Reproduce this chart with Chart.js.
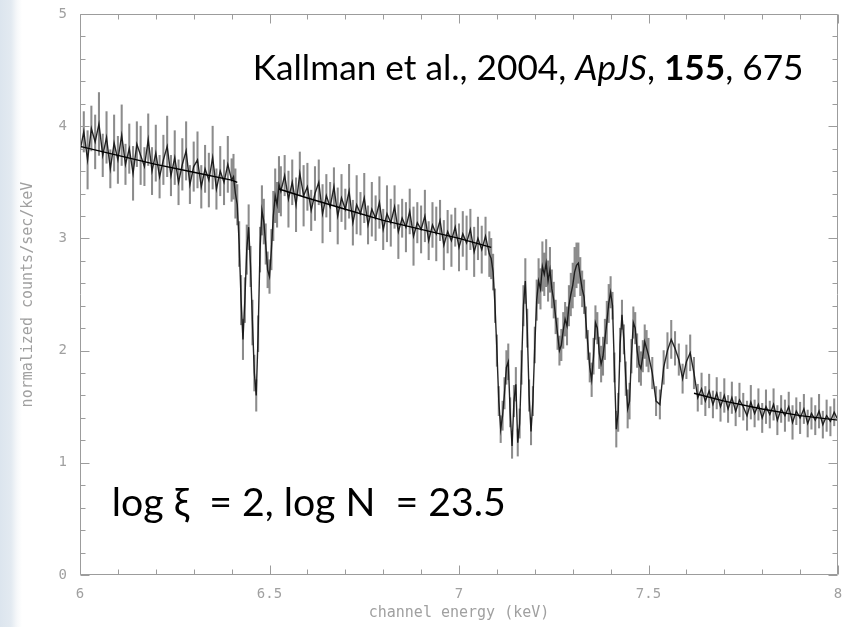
<!DOCTYPE html>
<html><head><meta charset="utf-8">
<script src="https://cdn.jsdelivr.net/npm/chart.js@4.4.1/dist/chart.umd.min.js"></script>
<style>
html,body{margin:0;padding:0;}
body{width:848px;height:627px;overflow:hidden;background:linear-gradient(to right,#dce5ee 0px,#e3eaf1 11px,#f6f8fa 17px,#ffffff 22px);}
#wrap{position:relative;width:848px;height:627px;}
</style></head><body>
<div id="wrap"><canvas id="c" width="848" height="627"></canvas></div>
<script>
// ---- channel energies (keV) ----
const energyKeV = [
  // 6.00 - 6.40
  6.00,6.01,6.02,6.03,6.04,6.05,6.06,6.07,6.08,6.09,
  6.10,6.11,6.12,6.13,6.14,6.15,6.16,6.17,6.18,6.19,
  6.20,6.21,6.22,6.23,6.24,6.25,6.26,6.27,6.28,6.29,
  6.30,6.31,6.32,6.33,6.34,6.35,6.36,6.37,6.38,6.39,
  6.40,
  // 6.405 - 6.525
  6.405,6.41,6.415,6.42,6.425,6.43,6.435,6.44,6.445,6.45,
  6.455,6.46,6.465,6.47,6.475,6.48,6.485,6.49,6.495,6.50,
  6.505,6.51,6.515,6.52,6.525,
  // 6.53 - 7.08
  6.53,6.54,6.55,6.56,6.57,6.58,6.59,
  6.60,6.61,6.62,6.63,6.64,6.65,6.66,6.67,6.68,6.69,
  6.70,6.71,6.72,6.73,6.74,6.75,6.76,6.77,6.78,6.79,
  6.80,6.81,6.82,6.83,6.84,6.85,6.86,6.87,6.88,6.89,
  6.90,6.91,6.92,6.93,6.94,6.95,6.96,6.97,6.98,6.99,
  7.00,7.01,7.02,7.03,7.04,7.05,7.06,7.07,7.08,
  // 7.085 - 7.495
  7.085,7.09,7.095,
  7.10,7.105,7.11,7.115,7.12,7.125,7.13,7.135,7.14,7.145,
  7.15,7.155,7.16,7.165,7.17,7.175,7.18,7.185,7.19,7.195,
  7.20,7.205,7.21,7.215,7.22,7.225,7.23,7.235,7.24,7.245,
  7.25,7.255,7.26,7.265,7.27,7.275,7.28,7.285,7.29,7.295,
  7.30,7.305,7.31,7.315,7.32,7.325,7.33,7.335,7.34,7.345,
  7.35,7.355,7.36,7.365,7.37,7.375,7.38,7.385,7.39,7.395,
  7.40,7.405,7.41,7.415,7.42,7.425,7.43,7.435,7.44,7.445,
  7.45,7.455,7.46,7.465,7.47,7.475,7.48,7.485,7.49,7.495,
  // 7.50 - 8.00
  7.50,7.51,7.52,7.53,7.54,7.55,7.56,7.57,7.58,7.59,
  7.60,7.61,7.62,7.63,7.64,7.65,7.66,7.67,7.68,7.69,
  7.70,7.71,7.72,7.73,7.74,7.75,7.76,7.77,7.78,7.79,
  7.80,7.81,7.82,7.83,7.84,7.85,7.86,7.87,7.88,7.89,
  7.90,7.91,7.92,7.93,7.94,7.95,7.96,7.97,7.98,7.99,
  8.00
];
// ---- normalized counts/sec/keV ----
const countRate = [
  3.78,3.95,3.70,3.98,3.86,4.02,3.74,3.90,3.62,3.85,
  3.70,3.92,3.66,3.80,3.58,3.84,3.74,3.64,3.88,3.60,
  3.76,3.55,3.70,3.82,3.56,3.72,3.50,3.66,3.78,3.48,
  3.64,3.70,3.46,3.62,3.52,3.72,3.44,3.60,3.50,3.66,
  3.52,
  3.55,3.40,3.30,2.95,2.45,2.10,2.45,2.90,3.10,2.75,
  2.25,1.80,1.60,2.15,2.90,3.25,3.15,2.95,2.72,2.66,
  2.90,3.20,3.38,3.30,3.48,
  3.42,3.56,3.35,3.50,3.30,3.58,3.38,
  3.46,3.25,3.40,3.50,3.22,3.38,3.28,3.46,3.20,3.36,
  3.26,3.42,3.14,3.30,3.22,3.36,3.12,3.26,3.18,3.32,
  3.08,3.22,3.14,3.28,3.06,3.18,3.10,3.24,3.02,3.14,
  3.08,3.20,2.98,3.12,3.04,3.16,2.94,3.06,2.98,3.10,
  2.92,3.04,2.96,3.08,2.88,3.00,2.90,3.02,2.86,
  2.82,2.70,2.40,
  2.00,1.55,1.30,1.42,1.62,1.85,1.90,1.45,1.15,1.55,
  1.70,1.18,1.35,1.85,2.40,2.62,2.20,1.60,1.28,1.55,
  2.05,2.45,2.62,2.55,2.75,2.68,2.78,2.62,2.72,2.55,
  2.45,2.30,2.15,2.00,2.05,2.18,2.28,2.22,2.40,2.50,
  2.58,2.70,2.76,2.78,2.66,2.55,2.48,2.25,2.05,1.85,
  1.74,1.95,2.25,2.20,1.98,1.88,1.95,2.10,2.25,2.42,
  2.52,2.40,1.85,1.30,1.45,2.05,2.32,2.10,1.75,1.48,
  1.55,1.95,2.25,2.20,2.00,1.88,1.84,1.95,2.08,2.02,
  1.96,1.80,1.55,1.52,1.85,2.00,2.10,2.02,1.92,1.75,
  1.90,1.98,1.80,1.58,1.66,1.55,1.64,1.52,1.62,1.50,
  1.60,1.48,1.58,1.46,1.56,1.50,1.42,1.54,1.44,1.52,
  1.40,1.50,1.43,1.52,1.38,1.48,1.42,1.50,1.36,1.46,
  1.40,1.48,1.35,1.44,1.38,1.46,1.34,1.42,1.37,1.45,
  1.38
];
// ---- 1-sigma error half-lengths ----
const countErr = [
  0.22,0.18,0.26,0.20,0.24,0.28,0.19,0.23,0.17,0.25,
  0.21,0.27,0.18,0.22,0.24,0.20,0.26,0.17,0.23,0.21,
  0.25,0.19,0.22,0.27,0.18,0.24,0.20,0.23,0.26,0.17,
  0.22,0.25,0.19,0.21,0.24,0.28,0.18,0.22,0.20,0.25,
  0.19,
  0.20,0.22,0.18,0.20,0.22,0.18,0.20,0.22,0.20,0.18,
  0.20,0.16,0.14,0.16,0.20,0.22,0.20,0.18,0.16,0.15,
  0.18,0.22,0.24,0.20,0.25,
  0.22,0.18,0.25,0.20,0.24,0.19,0.27,
  0.21,0.18,0.24,0.20,0.26,0.19,0.22,0.17,0.25,0.21,
  0.18,0.24,0.20,0.26,0.19,0.22,0.17,0.24,0.20,0.23,
  0.18,0.25,0.21,0.19,0.24,0.17,0.22,0.20,0.26,0.18,
  0.21,0.23,0.17,0.20,0.24,0.18,0.22,0.19,0.23,0.17,
  0.21,0.20,0.24,0.18,0.22,0.19,0.21,0.17,0.20,
  0.18,0.16,0.15,
  0.14,0.13,0.12,0.13,0.14,0.15,0.16,0.13,0.11,0.14,
  0.15,0.12,0.13,0.15,0.18,0.20,0.17,0.14,0.12,0.13,
  0.16,0.18,0.20,0.18,0.22,0.19,0.21,0.18,0.20,0.17,
  0.16,0.15,0.14,0.13,0.14,0.16,0.15,0.17,0.18,0.19,
  0.20,0.22,0.20,0.18,0.17,0.16,0.15,0.14,0.13,0.13,
  0.15,0.16,0.15,0.14,0.14,0.16,0.17,0.18,0.19,0.17,
  0.14,0.12,0.13,0.16,0.17,0.15,0.13,0.13,0.15,0.17,
  0.16,0.15,0.14,0.14,0.15,0.16,0.15,0.14,0.15,0.16,
  0.15,0.14,0.13,0.13,0.15,0.16,0.17,0.15,0.14,0.13,
  0.15,0.16,0.14,0.12,0.14,0.13,0.15,0.12,0.14,0.13,
  0.15,0.12,0.14,0.13,0.15,0.12,0.13,0.15,0.12,0.14,
  0.13,0.15,0.12,0.14,0.13,0.12,0.14,0.13,0.15,0.12,
  0.14,0.13,0.12,0.14,0.13,0.15,0.12,0.14,0.13,0.12,
  0.14
];
// ---- continuum model (null = gap where absorption lines dominate) ----
const modelEnergyKeV = [6.00,6.10,6.20,6.30,6.40,6.415, 6.47, 6.525,6.60,6.70,6.80,6.90,7.00,7.085, 7.30, 7.62,7.70,7.80,7.90,8.00];
const modelRate      = [3.82,3.74,3.66,3.59,3.52,3.50, null, 3.44,3.36,3.26,3.16,3.08,3.00,2.92, null, 1.62,1.55,1.48,1.42,1.38];

// ---- axis ticks and texts ----
const xTicks = [6, 6.5, 7, 7.5, 8];
const yTicks = [0, 1, 2, 3, 4, 5];
const xTitle = 'channel energy (keV)';
const yTitle = 'normalized counts/sec/keV';
const refParts = [['Kallman et al., 2004, ','normal'],['ApJS','italic'],[', ','normal'],['155','bold'],[', 675','normal']];
const paramText = 'log \u03BE  = 2, log N  = 23.5';

if (energyKeV.length !== countRate.length || countRate.length !== countErr.length) {
  console.error('length mismatch', energyKeV.length, countRate.length, countErr.length);
}

const dataPts = energyKeV.map((e,i)=>({x:e, y:countRate[i]}));
const errPts  = energyKeV.map((e,i)=>({x:e, y:[countRate[i]-countErr[i], countRate[i]+countErr[i]]}));
const modelPts = modelEnergyKeV.map((e,i)=>({x:e, y:modelRate[i]}));

const FAM = 'Lato, "Open Sans", "DejaVu Sans", sans-serif';
const AXFONT = '"DejaVu Sans Mono", monospace';

const framePlugin = {
  id:'frame',
  afterDatasetsDraw(chart){
    const {ctx, chartArea:a, scales:{x,y}} = chart;
    ctx.save();
    ctx.strokeStyle = '#9c9c9c';
    ctx.lineWidth = 1;
    const L = Math.round(a.left)+0.5, R = Math.round(a.right)-0.5, T = Math.round(a.top)+0.5, B = Math.round(a.bottom)-0.5;
    ctx.beginPath();
    ctx.rect(L, T, R-L, B-T);
    for (let k=60; k<=80; k++){
      const px = Math.round(x.getPixelForValue(k/10))+0.5;
      const len = (k%5===0) ? 9 : 5;
      ctx.moveTo(px, B); ctx.lineTo(px, B-len);
      ctx.moveTo(px, T); ctx.lineTo(px, T+len);
    }
    for (let k=0; k<=25; k++){
      const py = Math.round(y.getPixelForValue(k/5))+0.5;
      const len = (k%5===0) ? 9 : 5;
      ctx.moveTo(L, py); ctx.lineTo(L+len, py);
      ctx.moveTo(R, py); ctx.lineTo(R-len, py);
    }
    ctx.stroke();
    ctx.restore();
  },
  afterDraw(chart){
    const {ctx, scales:{x,y}} = chart;
    ctx.save();
    ctx.fillStyle = '#000';
    ctx.textBaseline = 'alphabetic';
    ctx.textAlign = 'left';
    const base = 32;
    const fontFor = (st,sz)=> (st==='italic' ? 'italic ' : st==='bold' ? 'bold ' : '') + sz + 'px ' + FAM;
    let w = 0;
    refParts.forEach(([t,st])=>{ ctx.font = fontFor(st,base); w += ctx.measureText(t).width; });
    const sz = base * 551 / w;
    let px = x.getPixelForValue(6.456);
    const py = y.getPixelForValue(4.41);
    refParts.forEach(([t,st])=>{ ctx.font = fontFor(st,sz); ctx.fillText(t, px, py); px += ctx.measureText(t).width; });
    ctx.font = '38px ' + FAM;
    const w2 = ctx.measureText(paramText).width;
    const sz2 = 38 * 394 / w2;
    ctx.font = sz2 + 'px ' + FAM;
    ctx.fillText(paramText, x.getPixelForValue(6.084), y.getPixelForValue(0.526));
    ctx.restore();
  }
};

new Chart(document.getElementById('c'), {
  type:'bar',
  data:{datasets:[
    {type:'line', label:'model', data:modelPts, borderColor:'#000', borderWidth:1.4, pointRadius:0, spanGaps:false, tension:0, order:0},
    {type:'line', label:'data', data:dataPts, borderColor:'rgba(20,20,20,0.92)', borderWidth:1.4, pointRadius:0, tension:0, order:1},
    {type:'bar', label:'errors', data:errPts, backgroundColor:'rgba(45,45,45,0.55)', borderWidth:0, barThickness:1.4, order:2}
  ]},
  options:{
    responsive:false, animation:false, devicePixelRatio:1,
    layout:{padding:{top:14, right:10, left:0, bottom:0}},
    plugins:{legend:{display:false}, tooltip:{enabled:false}},
    scales:{
      x:{
        type:'linear', min:6, max:8, offset:false,
        grid:{display:false, offset:false, drawTicks:false}, border:{display:false},
        afterBuildTicks:s=>{ s.ticks = xTicks.map(v=>({value:v})); },
        ticks:{color:'#a0a0a0', font:{family:AXFONT, size:14}, padding:11, maxRotation:0, autoSkip:false, callback:v=>String(v)},
        title:{display:true, text:xTitle, color:'#a0a0a0', font:{family:AXFONT, size:15}, padding:{top:0, bottom:5}},
        afterFit:s=>{ s.height = 52; s.paddingLeft = 0; s.paddingRight = 0; }
      },
      y:{
        type:'linear', min:0, max:5,
        grid:{display:false, drawTicks:false}, border:{display:false},
        afterBuildTicks:s=>{ s.ticks = yTicks.map(v=>({value:v})); },
        ticks:{color:'#a0a0a0', font:{family:AXFONT, size:14}, padding:13, callback:v=>String(v)},
        title:{display:true, text:yTitle, color:'#a0a0a0', font:{family:AXFONT, size:15}, padding:{top:19, bottom:0}},
        afterFit:s=>{ s.width = 80; s.paddingTop = 0; s.paddingBottom = 0; }
      }
    }
  },
  plugins:[framePlugin]
});
</script>
</body></html>
